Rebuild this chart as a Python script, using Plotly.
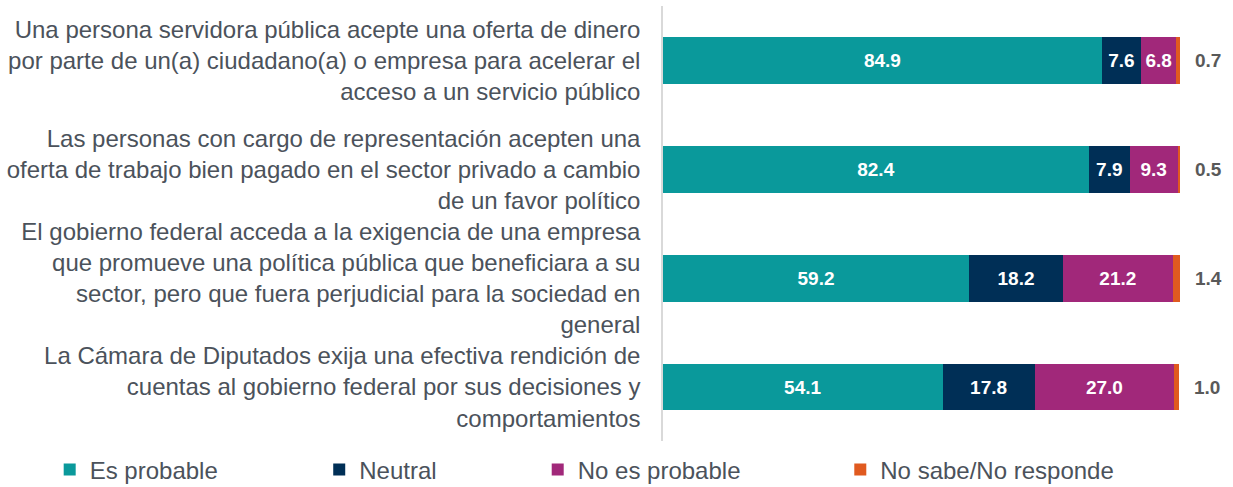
import plotly.graph_objects as go

categories = [
    "Una persona servidora pública acepte una oferta de dinero<br>por parte de un(a) ciudadano(a) o empresa para acelerar el<br>acceso a un servicio público",
    "Las personas con cargo de representación acepten una<br>oferta de trabajo bien pagado en el sector privado a cambio<br>de un favor político",
    "El gobierno federal acceda a la exigencia de una empresa<br>que promueve una política pública que beneficiara a su<br>sector, pero que fuera perjudicial para la sociedad en<br>general",
    "La Cámara de Diputados exija una efectiva rendición de<br>cuentas al gobierno federal por sus decisiones y<br>comportamientos",
]
es_probable = [84.9, 82.4, 59.2, 54.1]
neutral = [7.6, 7.9, 18.2, 17.8]
no_es_probable = [6.8, 9.3, 21.2, 27.0]
no_sabe = [0.7, 0.5, 1.4, 1.0]

series_names = ["Es probable", "Neutral", "No es probable", "No sabe/No responde"]
series_values = [es_probable, neutral, no_es_probable, no_sabe]
colors = ["#0A999B", "#002F56", "#A1287A", "#E05A1F"]
legend_x = [0.0403, 0.2589, 0.4361, 0.6815]

FONT = "Liberation Sans, Arial, sans-serif"
TXT = "#4B525B"

fig = go.Figure()
for i, (name, vals, col) in enumerate(zip(series_names, series_values, colors)):
    inside = i < 3
    fig.add_trace(go.Bar(
        y=categories, x=vals, name=name, orientation="h",
        marker=dict(color=col, line=dict(width=0)),
        text=[f"{v:.1f}" for v in vals] if inside else None,
        textposition="inside" if inside else "none",
        insidetextanchor="middle",
        textangle=0,
        constraintext="none",
        textfont=dict(family=FONT, size=19, color="white", weight="bold"),
        legend="legend" if i == 0 else f"legend{i+1}",
        hoverinfo="x+name",
    ))

totals = [sum(s[k] for s in series_values) for k in range(len(categories))]
for k, cat in enumerate(categories):
    fig.add_annotation(
        x=totals[k], y=cat, text=f"<b>{no_sabe[k]:.1f}</b>",
        xanchor="left", xshift=13, showarrow=False,
        font=dict(family=FONT, size=19, color="#595959"),
    )

layout_legends = {}
for i in range(4):
    key = "legend" if i == 0 else f"legend{i+1}"
    layout_legends[key] = dict(
        xref="container", yref="container", x=legend_x[i], y=0.035,
        xanchor="left", yanchor="middle", orientation="h",
        font=dict(family=FONT, size=24, color=TXT),
        itemwidth=30, bgcolor="rgba(0,0,0,0)", borderwidth=0,
    )

fig.update_layout(
    width=1233, height=487,
    barmode="stack", bargap=0.57,
    plot_bgcolor="white", paper_bgcolor="white",
    margin=dict(l=663, r=48, t=6, b=41),
    font=dict(family=FONT, size=24, color=TXT),
    showlegend=True,
    **layout_legends,
)
fig.update_xaxes(range=[0, 101], visible=False, showgrid=False, zeroline=False, fixedrange=True)
fig.update_yaxes(
    autorange="reversed", showgrid=False, zeroline=False,
    showline=True, linecolor="#D9D9D9", linewidth=1.5,
    ticks="", ticklabelstandoff=16,
    tickfont=dict(family=FONT, size=24, color=TXT),
)

fig.write_html("out.html", config={"displayModeBar": False},
               post_script="document.body.style.margin='0';")
